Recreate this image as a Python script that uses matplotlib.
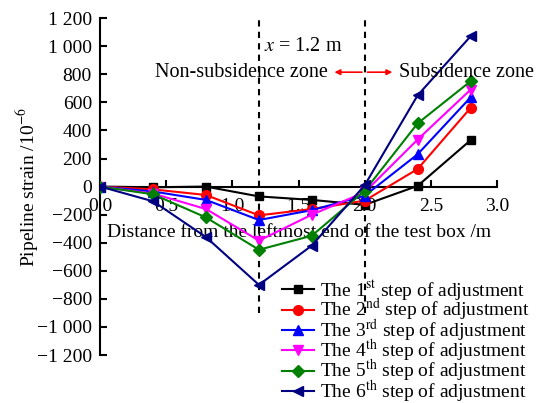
import numpy as np
import matplotlib.pyplot as plt

plt.rcParams['font.family'] = ['Liberation Serif', 'DejaVu Serif']
plt.rcParams['mathtext.fontset'] = 'stix'

# positions along the pipe (m)
x = [0.0, 0.4, 0.8, 1.2, 1.6, 2.0, 2.4, 2.8]

# strain per adjustment step (10^-6)
step1 = [0, -5, 0, -70, -95, -130, 5, 330]
step2 = [0, -20, -60, -205, -160, -100, 125, 560]
step3 = [0, -35, -95, -238, -168, -65, 230, 635]
step4 = [0, -50, -160, -385, -200, -40, 335, 690]
step5 = [0, -55, -220, -450, -350, -30, 450, 750]
step6 = [0, -105, -360, -700, -420, 10, 650, 1070]

labels = ['The 1$^{\\rm st}$ step of adjustment',
          'The 2$^{\\rm nd}$ step of adjustment',
          'The 3$^{\\rm rd}$ step of adjustment',
          'The 4$^{\\rm th}$ step of adjustment',
          'The 5$^{\\rm th}$ step of adjustment',
          'The 6$^{\\rm th}$ step of adjustment']
series = [step1, step2, step3, step4, step5, step6]
colors = ['black', '#ff0000', '#0000ff', '#ff00ff', '#008000', '#000080']
markers = ['s', 'o', '^', 'v', 'D', '<']
msizes = [6, 7, 7, 7, 6, 7]

fig = plt.figure(figsize=(5.39, 4.03), dpi=100)
ax = fig.add_axes([0.186, 0.119, 0.736, 0.836])

# zone boundaries
for xv in [1.2, 2.0]:
    ax.plot([xv, xv], [-900, 1200], color='black', lw=1.5, ls=(0, (3, 2.5)), zorder=1)

for ys, c, m, ms, lab in zip(series, colors, markers, msizes, labels):
    ax.plot(x, ys, color=c, marker=m, ms=ms, lw=1.5, label=lab, zorder=3)

ax.set_xlim(0, 3.0)
ax.set_ylim(-1200, 1200)
ax.set_xticks(np.arange(0, 3.01, 0.5))
ax.set_xticklabels([f'{v:.1f}' for v in np.arange(0, 3.01, 0.5)])
yt = np.arange(-1200, 1201, 200)
ax.set_yticks(yt)
ax.set_yticklabels([f'{v:,}'.replace(',', ' ').replace('-', '\u2212') for v in yt])

ax.spines['top'].set_visible(False)
ax.spines['right'].set_visible(False)
ax.spines['bottom'].set_position(('data', 0))
ax.spines['left'].set_linewidth(1.5)
ax.spines['bottom'].set_linewidth(1.5)
ax.tick_params(direction='in', width=1.5, length=5, labelsize=14)
ax.tick_params(axis='x', pad=8)
ax.tick_params(axis='y', pad=6)

ax.set_xlabel('Distance from the leftmost end of the test box /m', fontsize=14, labelpad=7)
ax.set_ylabel('Pipeline strain /10$^{-6}$', fontsize=14, labelpad=-3)

ax.text(1.235, 1000, '$x$ = 1.2 m', fontsize=14.5, va='center', ha='left')
ax.text(1.72, 815, 'Non-subsidence zone', fontsize=14.5, va='center', ha='right')
ax.text(2.26, 815, 'Subsidence zone', fontsize=14.5, va='center', ha='left')
ax.annotate('', xy=(1.75, 815), xytext=(2.0, 815),
            arrowprops=dict(arrowstyle='-|>', color='#ff0000', lw=1.2, mutation_scale=8))
ax.annotate('', xy=(2.23, 815), xytext=(2.0, 815),
            arrowprops=dict(arrowstyle='-|>', color='#ff0000', lw=1.2, mutation_scale=8))

ax.legend(loc='upper left', bbox_to_anchor=(0.523, 0.31), bbox_transform=fig.transFigure,
          frameon=False, fontsize=14, handlelength=1.65, handletextpad=0.3,
          labelspacing=-0.3, borderpad=0, borderaxespad=0)

fig.savefig('out.png', dpi=100)
